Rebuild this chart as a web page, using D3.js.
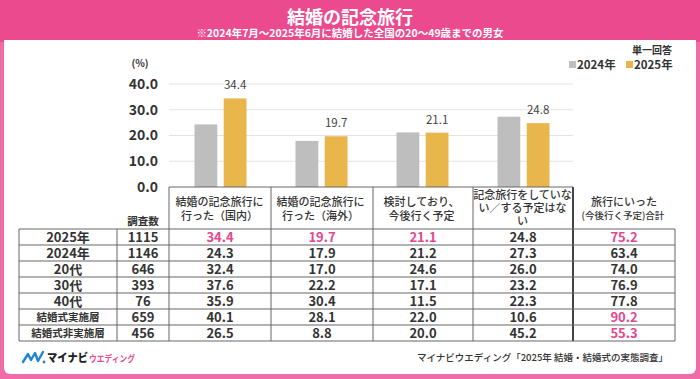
<!DOCTYPE html>
<html><head><meta charset="utf-8">
<script src="https://cdn.jsdelivr.net/npm/d3@7"></script>
<style>
html,body{margin:0;padding:0;background:#fff;}
svg{display:block;font-family:"Noto Sans CJK JP","Noto Sans",sans-serif;}
</style></head><body>
<svg id="c" width="700" height="379"></svg>
<script>
// ---- data ----
const title = "結婚の記念旅行";
const subtitle = "※2024年7月～2025年6月に結婚した全国の20～49歳までの男女";
const years = ["2024年", "2025年"];
const categories = ["国内", "海外", "検討", "なし"];
const categoryHeaders = [
  ["結婚の記念旅行に", "行った（国内）"],
  ["結婚の記念旅行に", "行った（海外）"],
  ["検討しており、", "今後行く予定"],
  ["記念旅行をしていな", "い／する予定はな", "い"]
];
const totalHeader = ["旅行にいった", "(今後行く予定)合計"];
const values2024 = [24.3, 17.9, 21.2, 27.3];
const values2025 = [34.4, 19.7, 21.1, 24.8];
const yTicks = [0, 10, 20, 30, 40];
const rowLabels = ["2025年", "2024年", "20代", "30代", "40代", "結婚式実施層", "結婚式非実施層"];
const counts = [1115, 1146, 646, 393, 76, 659, 456];
const colDomestic = [34.4, 24.3, 32.4, 37.6, 35.9, 40.1, 26.5];
const colOverseas = [19.7, 17.9, 17.0, 22.2, 30.4, 28.1, 8.8];
const colPlanned = [21.1, 21.2, 24.6, 17.1, 11.5, 22.0, 20.0];
const colNone = [24.8, 27.3, 26.0, 23.2, 22.3, 10.6, 45.2];
const colTotal = [75.2, 63.4, 74.0, 76.9, 77.8, 90.2, 55.3];
// highlighted cells [row, col] (col index: 0..3 categories, 4 total)
const highlights = [[0,0],[0,1],[0,2],[0,4],[5,4],[6,4]];

// ---- drawing ----
const svg = d3.select("#c");
const PINK = "#EB4B8E", GOLD = "#E8B64A", GRAY = "#BEBEBE", TXT = "#333";

svg.append("rect").attr("x",0).attr("y",0).attr("width",700).attr("height",379).attr("fill","#F06CA8");
svg.append("rect").attr("x",0).attr("y",0).attr("width",700).attr("height",42).attr("fill",PINK);
svg.append("rect").attr("x",4).attr("y",40).attr("width",692).attr("height",334).attr("rx",6).attr("fill","#fff");
svg.append("rect").attr("x",4).attr("y",40).attr("width",692).attr("height",10).attr("fill","#fff");

svg.append("text").attr("x",350).attr("y",24).attr("text-anchor","middle").attr("fill","#fff")
  .attr("font-size",18).attr("font-weight",700).text(title);
svg.append("text").attr("x",350).attr("y",37).attr("text-anchor","middle").attr("fill","#fff")
  .attr("font-size",10.5).attr("font-weight",700).text(subtitle);

// scales
const x0 = d3.scaleBand().domain(categories).range([169, 573]);
const x1 = d3.scaleBand().domain(years).range([-26, 26]).paddingInner(0.22);
const y = d3.scaleLinear().domain([0, 40]).range([187, 84]);

// gridlines
svg.append("g").selectAll("line").data(yTicks.filter(d=>d>0)).join("line")
  .attr("x1",169).attr("x2",573).attr("y1",d=>y(d)).attr("y2",d=>y(d))
  .attr("stroke","#E3E3E3").attr("stroke-width",1);

// y axis labels
const yAxis = d3.axisLeft(y).tickValues(yTicks).tickFormat(d3.format(".1f")).tickSize(0).tickPadding(0);
const ga = svg.append("g").attr("transform","translate(158,0)").call(yAxis);
ga.select(".domain").remove();
ga.selectAll("text").attr("font-size",14).attr("font-weight",700).attr("fill",TXT)
  .attr("font-family","'Noto Sans CJK JP',sans-serif");
svg.append("text").attr("x",140).attr("y",67).attr("text-anchor","middle").attr("font-size",10)
  .attr("font-weight",700).attr("fill",TXT).text("(%)");

// bars
const series = [values2024, values2025];
const colors = [GRAY, GOLD];
categories.forEach((c, i) => {
  const cx = x0(c) + x0.bandwidth()/2 + 1;
  years.forEach((yr, j) => {
    const v = series[j][i];
    svg.append("rect").attr("x", cx + x1(yr)).attr("width", x1.bandwidth())
      .attr("y", y(v)).attr("height", y(0) - y(v)).attr("fill", colors[j]);
  });
  const v = values2025[i];
  svg.append("text").attr("x", cx + x1("2025年") + x1.bandwidth()/2).attr("y", y(v) - 9)
    .attr("text-anchor","middle").attr("font-size",11.5).attr("fill","#444").text(d3.format(".1f")(v));
});

// legend
svg.append("text").attr("x",672).attr("y",54).attr("text-anchor","end").attr("font-size",10)
  .attr("font-weight",700).attr("fill",TXT).text("単一回答");
const lg = [{x:569, c:GRAY, t:years[0]}, {x:626, c:GOLD, t:years[1]}];
lg.forEach(l => {
  svg.append("rect").attr("x",l.x).attr("y",61).attr("width",7).attr("height",7).attr("fill",l.c);
  svg.append("text").attr("x",l.x+8).attr("y",68.5).attr("font-size",11.5).attr("font-weight",700)
    .attr("fill",TXT).text(l.t);
});

// table
const tTop = 229, rowH = 16, tBot = tTop + rowH*rowLabels.length;
const colEdges = [19, 117, 169, 271, 373, 473, 573, 675];
const lineC = "#666";
const tg = svg.append("g");
tg.append("line").attr("x1",169).attr("x2",573).attr("y1",187).attr("y2",187).attr("stroke",lineC);
[169,271,373,473].forEach(xx => tg.append("line").attr("x1",xx).attr("x2",xx).attr("y1",187).attr("y2",tTop).attr("stroke",lineC));
tg.append("line").attr("x1",573).attr("x2",573).attr("y1",187).attr("y2",tBot).attr("stroke","#444").attr("stroke-width",2);
d3.range(rowLabels.length+1).forEach(r => {
  tg.append("line").attr("x1",19).attr("x2",675).attr("y1",tTop+r*rowH).attr("y2",tTop+r*rowH).attr("stroke",lineC);
});
colEdges.forEach(xx => { if (xx !== 573) tg.append("line").attr("x1",xx).attr("x2",xx).attr("y1",tTop).attr("y2",tBot).attr("stroke",lineC); });

// headers
categoryHeaders.forEach((lines, i) => {
  const cx = x0(categories[i]) + x0.bandwidth()/2;
  const startY = lines.length === 3 ? 198.5 : 206;
  const step = lines.length === 3 ? 13.2 : 14;
  lines.forEach((ln, k) => {
    tg.append("text").attr("x",cx).attr("y",startY + k*step).attr("text-anchor","middle")
      .attr("font-size",11).attr("font-weight",500).attr("fill",TXT).text(ln);
  });
});
tg.append("text").attr("x",624).attr("y",206).attr("text-anchor","middle").attr("font-size",11)
  .attr("font-weight",500).attr("fill",TXT).text(totalHeader[0]);
tg.append("text").attr("x",623).attr("y",219).attr("text-anchor","middle").attr("font-size",9.5)
  .attr("font-weight",500).attr("fill",TXT).text(totalHeader[1]);
tg.append("text").attr("x",143).attr("y",225).attr("text-anchor","middle").attr("font-size",10.5)
  .attr("font-weight",700).attr("fill",TXT).text("調査数");

const cols = [colDomestic, colOverseas, colPlanned, colNone, colTotal];
const isHi = (r,c) => highlights.some(h => h[0]===r && h[1]===c);
rowLabels.forEach((lab, r) => {
  const by = tTop + r*rowH + 12.5;
  const longLab = lab.startsWith("結婚");
  tg.append("text").attr("x",68).attr("y",by - (longLab ? 0.5 : 0)).attr("text-anchor","middle")
    .attr("font-size", longLab ? 10.5 : 13).attr("font-weight",700).attr("fill",TXT).text(lab);
  tg.append("text").attr("x",143).attr("y",by).attr("text-anchor","middle")
    .attr("font-size",13).attr("font-weight",700).attr("fill",TXT).text(counts[r]);
  cols.forEach((col, c) => {
    const cx = (colEdges[c+2] + colEdges[c+3]) / 2;
    tg.append("text").attr("x",cx).attr("y",by).attr("text-anchor","middle")
      .attr("font-size",13).attr("font-weight",700).attr("fill", isHi(r,c) ? "#E5468E" : TXT)
      .text(d3.format(".1f")(col[r]));
  });
});

// logo
svg.append("path").attr("d","M23,362 L28,354 L31,360 L35,353 L38,361 L43,352")
  .attr("fill","none").attr("stroke","#1F86D6").attr("stroke-width",2.4).attr("stroke-linejoin","round").attr("stroke-linecap","round");
svg.append("circle").attr("cx",44).attr("cy",362).attr("r",1.4).attr("fill","#1F86D6");
svg.append("text").attr("x",47).attr("y",362).attr("font-size",11).attr("font-weight",900).attr("fill","#222")
  .attr("textLength",41).attr("lengthAdjust","spacingAndGlyphs").text("マイナビ");
svg.append("text").attr("x",89).attr("y",362).attr("font-size",9).attr("font-weight",700).attr("fill","#EC4A8E")
  .attr("textLength",46).attr("lengthAdjust","spacingAndGlyphs").text("ウエディング");

svg.append("text").attr("x",668).attr("y",361).attr("text-anchor","end").attr("font-size",9.5)
  .attr("font-weight",500).attr("fill",TXT).text("マイナビウエディング「2025年 結婚・結婚式の実態調査」");
</script>
</body></html>
